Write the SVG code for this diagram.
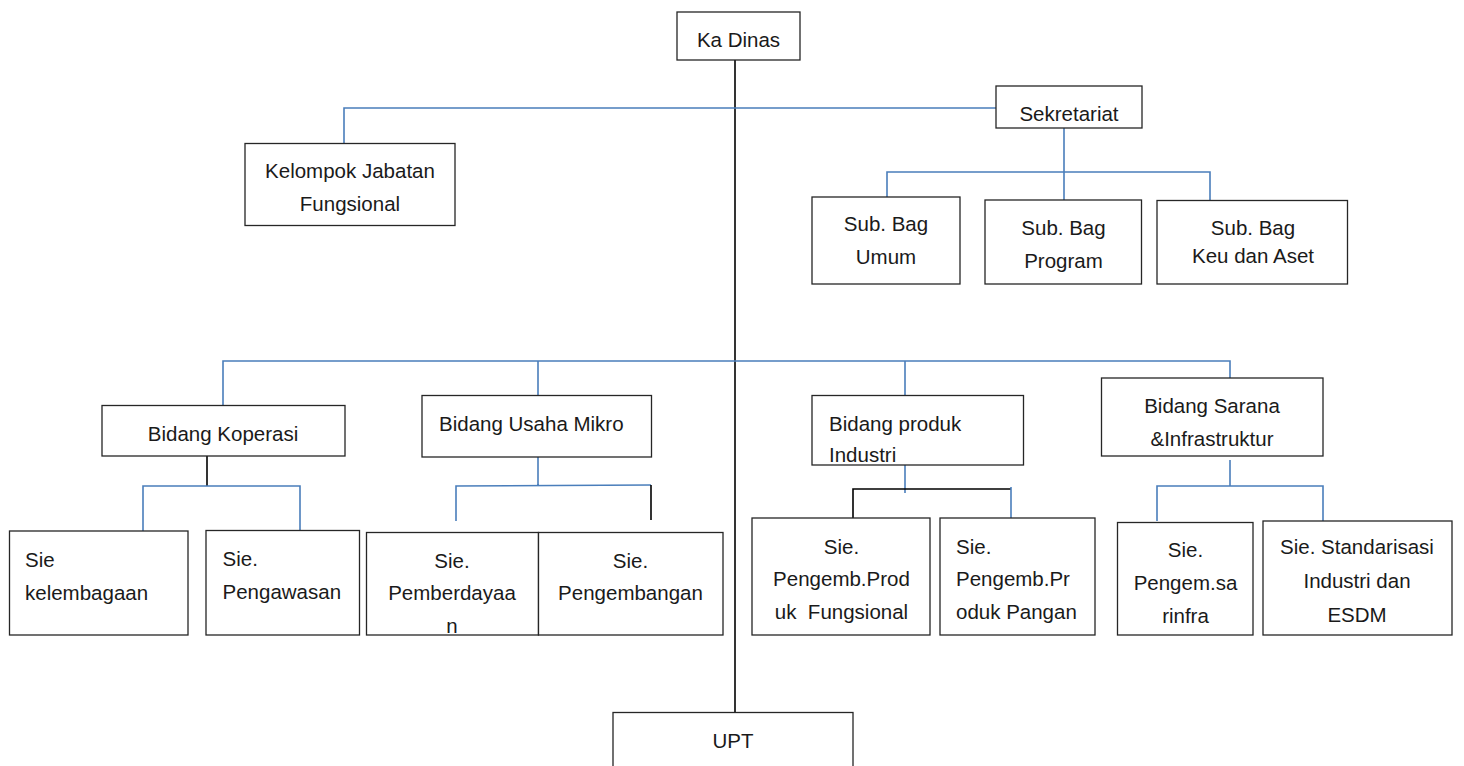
<svg xmlns="http://www.w3.org/2000/svg" width="1464" height="766" viewBox="0 0 1464 766">
<style>
rect{fill:#fff;stroke:#262626;stroke-width:1.3}
text{font-family:"Liberation Sans",Arial,sans-serif;font-size:20.5px;fill:#1a1a1a}
.c{text-anchor:middle}
.b{fill:none;stroke:#4a7ebb;stroke-width:1.6}
.k{fill:none;stroke:#000;stroke-width:1.6}
</style>
<rect x="0" y="0" width="1464" height="766" style="fill:#fff;stroke:none"/>
<g id="connectors">
<path class="k" d="M735 60V712"/>
<path class="b" d="M344 143V108H996"/>
<path class="b" d="M1064 128V200M887 197V172H1210V200"/>
<path class="b" d="M223 405V361H1230V378M538 361V395M905 361V395"/>
<path class="k" d="M207 456V486"/>
<path class="b" d="M143 531V486H300V531"/>
<path class="b" d="M538 457V485M456 521V486L651 485"/>
<path class="k" d="M651 485V520"/>
<path class="b" d="M905 465V493"/>
<path class="k" d="M853 518V489H1011"/>
<path class="b" d="M1011 487V518"/>
<path class="b" d="M1230 460V486M1157 521V486H1323V521"/>
</g>
<g id="ka-dinas"><rect x="677" y="12" width="123" height="48"/><text class="c" x="738.5" y="47">Ka Dinas</text></g>
<g id="kelompok"><rect x="245" y="143.5" width="210" height="82"/><text class="c" x="350" y="178">Kelompok Jabatan</text><text class="c" x="350" y="211">Fungsional</text></g>
<g id="sekretariat"><rect x="996" y="86" width="146" height="42"/><text class="c" x="1069" y="121">Sekretariat</text></g>
<g id="subbag-umum"><rect x="812" y="197" width="148" height="87"/><text class="c" x="886" y="231">Sub. Bag</text><text class="c" x="886" y="264">Umum</text></g>
<g id="subbag-program"><rect x="985" y="200" width="156.5" height="84"/><text class="c" x="1063.5" y="235">Sub. Bag</text><text class="c" x="1063.5" y="268">Program</text></g>
<g id="subbag-keu"><rect x="1157" y="200.5" width="190.5" height="83.5"/><text class="c" x="1253" y="235">Sub. Bag</text><text class="c" x="1253" y="263">Keu dan Aset</text></g>
<g id="bidang-koperasi"><rect x="102" y="405.5" width="243" height="50.5"/><text class="c" x="223" y="441">Bidang Koperasi</text></g>
<g id="bidang-usaha-mikro"><rect x="422" y="395.5" width="229.5" height="61.5"/><text x="439" y="431">Bidang Usaha Mikro</text></g>
<g id="bidang-produk"><rect x="812" y="395.5" width="211.5" height="69.5"/><text x="829" y="431">Bidang produk</text><text x="829" y="462">Industri</text></g>
<g id="bidang-sarana"><rect x="1101.5" y="378" width="221.5" height="78"/><text class="c" x="1212" y="413">Bidang Sarana</text><text class="c" x="1212" y="446">&amp;Infrastruktur</text></g>
<g id="sie-kelembagaan"><rect x="9.5" y="531" width="178.5" height="104"/><text x="25" y="567">Sie</text><text x="25" y="599.5">kelembagaan</text></g>
<g id="sie-pengawasan"><rect x="206" y="530.5" width="153.5" height="104.5"/><text x="222.5" y="566">Sie.</text><text x="222.5" y="598.5">Pengawasan</text></g>
<g id="sie-pemberdayaan"><rect x="366.5" y="532.5" width="172" height="102.5"/><text class="c" x="452" y="568">Sie.</text><text class="c" x="452" y="600">Pemberdayaa</text><text class="c" x="452" y="633">n</text></g>
<g id="sie-pengembangan"><rect x="538.5" y="532.5" width="184.5" height="102.5"/><text class="c" x="630.5" y="568">Sie.</text><text class="c" x="630.5" y="600">Pengembangan</text></g>
<g id="sie-pengemb-produk"><rect x="752" y="518" width="178" height="117"/><text class="c" x="841.5" y="554">Sie.</text><text class="c" x="841.5" y="586">Pengemb.Prod</text><text class="c" x="841.5" y="619" xml:space="preserve">uk  Fungsional</text></g>
<g id="sie-pengemb-pangan"><rect x="940" y="518" width="155" height="117"/><text x="956" y="554">Sie.</text><text x="956" y="586">Pengemb.Pr</text><text x="956" y="619">oduk Pangan</text></g>
<g id="sie-pengem-sarinfra"><rect x="1117.5" y="522.5" width="135.5" height="112.5"/><text class="c" x="1185.5" y="557">Sie.</text><text class="c" x="1185.5" y="590">Pengem.sa</text><text class="c" x="1185.5" y="622.5">rinfra</text></g>
<g id="sie-standarisasi"><rect x="1263" y="521" width="189" height="114"/><text class="c" x="1357" y="554">Sie. Standarisasi</text><text class="c" x="1357" y="588">Industri dan</text><text class="c" x="1357" y="621.5">ESDM</text></g>
<g id="upt"><rect x="613" y="712.5" width="240" height="70"/><text class="c" x="733" y="748">UPT</text></g>
</svg>
